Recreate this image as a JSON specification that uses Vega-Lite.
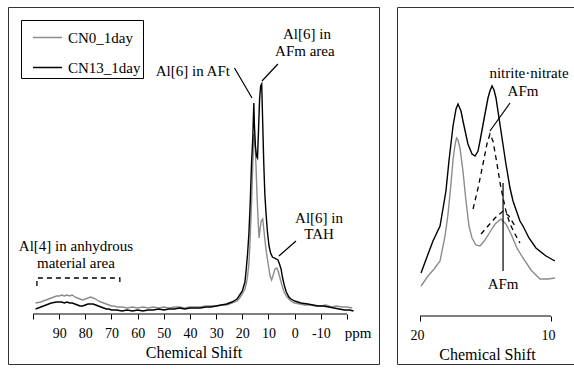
{
  "$schema": "https://vega.github.io/schema/vega-lite/v6.json",
  "autosize": {"type": "pad"},
  "padding": {"left": 7, "top": 6, "right": 0, "bottom": 0},
  "background": "white",
  "spacing": 16,
  "config": {
    "view": {"stroke": "#333333", "strokeWidth": 1},
    "font": "Times New Roman, Liberation Serif, DejaVu Serif, serif",
    "axis": {"labelFont": "Times New Roman, Liberation Serif, DejaVu Serif, serif", "titleFont": "Times New Roman, Liberation Serif, DejaVu Serif, serif", "labelColor": "black", "titleColor": "black", "tickColor": "black", "grid": false, "labelFontSize": 14, "titleFontSize": 16, "titleFontWeight": "normal", "domain": false, "tickSize": 5, "labelPadding": 7, "titlePadding": 4, "labelAngle": 0},
    "legend": {"labelFont": "Times New Roman, Liberation Serif, DejaVu Serif, serif"},
    "text": {"font": "Times New Roman, Liberation Serif, DejaVu Serif, serif", "fontSize": 15, "color": "black"}
  },
  "datasets": {
    "left": [
      {"ppm": 99, "intensity": 11, "sample": "CN0_1day"}, {"ppm": 97, "intensity": 12, "sample": "CN0_1day"}, {"ppm": 95, "intensity": 14, "sample": "CN0_1day"}, {"ppm": 93, "intensity": 16, "sample": "CN0_1day"}, {"ppm": 91, "intensity": 18, "sample": "CN0_1day"}, {"ppm": 90, "intensity": 18, "sample": "CN0_1day"}, {"ppm": 89, "intensity": 19, "sample": "CN0_1day"}, {"ppm": 88, "intensity": 18, "sample": "CN0_1day"}, {"ppm": 87, "intensity": 19, "sample": "CN0_1day"}, {"ppm": 86, "intensity": 18, "sample": "CN0_1day"}, {"ppm": 85, "intensity": 19, "sample": "CN0_1day"}, {"ppm": 84, "intensity": 17, "sample": "CN0_1day"}, {"ppm": 83, "intensity": 16, "sample": "CN0_1day"}, {"ppm": 82, "intensity": 15, "sample": "CN0_1day"}, {"ppm": 81, "intensity": 14, "sample": "CN0_1day"}, {"ppm": 80, "intensity": 15, "sample": "CN0_1day"}, {"ppm": 79, "intensity": 16, "sample": "CN0_1day"}, {"ppm": 78, "intensity": 17, "sample": "CN0_1day"}, {"ppm": 77, "intensity": 16, "sample": "CN0_1day"}, {"ppm": 76, "intensity": 15, "sample": "CN0_1day"}, {"ppm": 75, "intensity": 13, "sample": "CN0_1day"}, {"ppm": 74, "intensity": 12, "sample": "CN0_1day"}, {"ppm": 73, "intensity": 11, "sample": "CN0_1day"}, {"ppm": 72, "intensity": 10, "sample": "CN0_1day"}, {"ppm": 71, "intensity": 9, "sample": "CN0_1day"}, {"ppm": 70, "intensity": 8, "sample": "CN0_1day"}, {"ppm": 69, "intensity": 8, "sample": "CN0_1day"}, {"ppm": 68, "intensity": 7, "sample": "CN0_1day"}, {"ppm": 66, "intensity": 7, "sample": "CN0_1day"}, {"ppm": 64, "intensity": 6, "sample": "CN0_1day"}, {"ppm": 62, "intensity": 7, "sample": "CN0_1day"}, {"ppm": 60, "intensity": 6, "sample": "CN0_1day"}, {"ppm": 58, "intensity": 7, "sample": "CN0_1day"}, {"ppm": 56, "intensity": 6, "sample": "CN0_1day"}, {"ppm": 54, "intensity": 7, "sample": "CN0_1day"}, {"ppm": 52, "intensity": 6, "sample": "CN0_1day"}, {"ppm": 50, "intensity": 7, "sample": "CN0_1day"}, {"ppm": 48, "intensity": 6, "sample": "CN0_1day"}, {"ppm": 46, "intensity": 7, "sample": "CN0_1day"}, {"ppm": 44, "intensity": 7, "sample": "CN0_1day"}, {"ppm": 42, "intensity": 6, "sample": "CN0_1day"}, {"ppm": 40, "intensity": 7, "sample": "CN0_1day"}, {"ppm": 38, "intensity": 7, "sample": "CN0_1day"}, {"ppm": 36, "intensity": 7, "sample": "CN0_1day"}, {"ppm": 34, "intensity": 8, "sample": "CN0_1day"}, {"ppm": 32, "intensity": 8, "sample": "CN0_1day"}, {"ppm": 30, "intensity": 8, "sample": "CN0_1day"}, {"ppm": 28, "intensity": 9, "sample": "CN0_1day"}, {"ppm": 26, "intensity": 9, "sample": "CN0_1day"}, {"ppm": 24, "intensity": 11, "sample": "CN0_1day"}, {"ppm": 22, "intensity": 13, "sample": "CN0_1day"}, {"ppm": 21, "intensity": 16, "sample": "CN0_1day"}, {"ppm": 20, "intensity": 20, "sample": "CN0_1day"}, {"ppm": 19, "intensity": 25, "sample": "CN0_1day"}, {"ppm": 18.5, "intensity": 30, "sample": "CN0_1day"}, {"ppm": 18, "intensity": 38, "sample": "CN0_1day"}, {"ppm": 17.5, "intensity": 50, "sample": "CN0_1day"}, {"ppm": 17, "intensity": 75, "sample": "CN0_1day"}, {"ppm": 16.5, "intensity": 110, "sample": "CN0_1day"}, {"ppm": 16, "intensity": 150, "sample": "CN0_1day"}, {"ppm": 15.6, "intensity": 180, "sample": "CN0_1day"}, {"ppm": 15.2, "intensity": 172, "sample": "CN0_1day"}, {"ppm": 14.8, "intensity": 150, "sample": "CN0_1day"}, {"ppm": 14.4, "intensity": 120, "sample": "CN0_1day"}, {"ppm": 14.0, "intensity": 95, "sample": "CN0_1day"}, {"ppm": 13.6, "intensity": 76, "sample": "CN0_1day"}, {"ppm": 13.2, "intensity": 85, "sample": "CN0_1day"}, {"ppm": 12.8, "intensity": 93, "sample": "CN0_1day"}, {"ppm": 12.2, "intensity": 95, "sample": "CN0_1day"}, {"ppm": 11.8, "intensity": 85, "sample": "CN0_1day"}, {"ppm": 11.2, "intensity": 70, "sample": "CN0_1day"}, {"ppm": 10.6, "intensity": 58, "sample": "CN0_1day"}, {"ppm": 10, "intensity": 48, "sample": "CN0_1day"}, {"ppm": 9.4, "intensity": 38, "sample": "CN0_1day"}, {"ppm": 8.8, "intensity": 34, "sample": "CN0_1day"}, {"ppm": 8.2, "intensity": 39, "sample": "CN0_1day"}, {"ppm": 7.5, "intensity": 45, "sample": "CN0_1day"}, {"ppm": 6.8, "intensity": 46, "sample": "CN0_1day"}, {"ppm": 6.2, "intensity": 42, "sample": "CN0_1day"}, {"ppm": 5.5, "intensity": 35, "sample": "CN0_1day"}, {"ppm": 4.8, "intensity": 28, "sample": "CN0_1day"}, {"ppm": 4, "intensity": 22, "sample": "CN0_1day"}, {"ppm": 3.2, "intensity": 18, "sample": "CN0_1day"}, {"ppm": 2.2, "intensity": 15, "sample": "CN0_1day"}, {"ppm": 1, "intensity": 12, "sample": "CN0_1day"}, {"ppm": 0, "intensity": 11, "sample": "CN0_1day"}, {"ppm": -2, "intensity": 10, "sample": "CN0_1day"}, {"ppm": -4, "intensity": 9, "sample": "CN0_1day"}, {"ppm": -6, "intensity": 9, "sample": "CN0_1day"}, {"ppm": -8, "intensity": 8, "sample": "CN0_1day"}, {"ppm": -10, "intensity": 8, "sample": "CN0_1day"}, {"ppm": -12, "intensity": 9, "sample": "CN0_1day"}, {"ppm": -14, "intensity": 7, "sample": "CN0_1day"}, {"ppm": -16, "intensity": 8, "sample": "CN0_1day"}, {"ppm": -18, "intensity": 7, "sample": "CN0_1day"}, {"ppm": -20, "intensity": 7, "sample": "CN0_1day"}, {"ppm": -22, "intensity": 6, "sample": "CN0_1day"},
      {"ppm": 99, "intensity": 5, "sample": "CN13_1day"}, {"ppm": 97, "intensity": 7, "sample": "CN13_1day"}, {"ppm": 95, "intensity": 9, "sample": "CN13_1day"}, {"ppm": 93, "intensity": 11, "sample": "CN13_1day"}, {"ppm": 91, "intensity": 12, "sample": "CN13_1day"}, {"ppm": 90, "intensity": 12, "sample": "CN13_1day"}, {"ppm": 89, "intensity": 12, "sample": "CN13_1day"}, {"ppm": 88, "intensity": 11, "sample": "CN13_1day"}, {"ppm": 87, "intensity": 12, "sample": "CN13_1day"}, {"ppm": 86, "intensity": 11, "sample": "CN13_1day"}, {"ppm": 85, "intensity": 11, "sample": "CN13_1day"}, {"ppm": 84, "intensity": 10, "sample": "CN13_1day"}, {"ppm": 83, "intensity": 9, "sample": "CN13_1day"}, {"ppm": 82, "intensity": 8, "sample": "CN13_1day"}, {"ppm": 81, "intensity": 8, "sample": "CN13_1day"}, {"ppm": 80, "intensity": 9, "sample": "CN13_1day"}, {"ppm": 79, "intensity": 10, "sample": "CN13_1day"}, {"ppm": 78, "intensity": 10, "sample": "CN13_1day"}, {"ppm": 77, "intensity": 10, "sample": "CN13_1day"}, {"ppm": 76, "intensity": 9, "sample": "CN13_1day"}, {"ppm": 75, "intensity": 8, "sample": "CN13_1day"}, {"ppm": 74, "intensity": 7, "sample": "CN13_1day"}, {"ppm": 73, "intensity": 6, "sample": "CN13_1day"}, {"ppm": 72, "intensity": 5, "sample": "CN13_1day"}, {"ppm": 71, "intensity": 5, "sample": "CN13_1day"}, {"ppm": 70, "intensity": 4, "sample": "CN13_1day"}, {"ppm": 68, "intensity": 4, "sample": "CN13_1day"}, {"ppm": 66, "intensity": 3, "sample": "CN13_1day"}, {"ppm": 64, "intensity": 4, "sample": "CN13_1day"}, {"ppm": 62, "intensity": 3, "sample": "CN13_1day"}, {"ppm": 60, "intensity": 4, "sample": "CN13_1day"}, {"ppm": 58, "intensity": 3, "sample": "CN13_1day"}, {"ppm": 56, "intensity": 4, "sample": "CN13_1day"}, {"ppm": 54, "intensity": 4, "sample": "CN13_1day"}, {"ppm": 52, "intensity": 5, "sample": "CN13_1day"}, {"ppm": 50, "intensity": 4, "sample": "CN13_1day"}, {"ppm": 48, "intensity": 5, "sample": "CN13_1day"}, {"ppm": 46, "intensity": 5, "sample": "CN13_1day"}, {"ppm": 44, "intensity": 6, "sample": "CN13_1day"}, {"ppm": 42, "intensity": 5, "sample": "CN13_1day"}, {"ppm": 40, "intensity": 6, "sample": "CN13_1day"}, {"ppm": 38, "intensity": 6, "sample": "CN13_1day"}, {"ppm": 36, "intensity": 6, "sample": "CN13_1day"}, {"ppm": 34, "intensity": 7, "sample": "CN13_1day"}, {"ppm": 32, "intensity": 7, "sample": "CN13_1day"}, {"ppm": 30, "intensity": 8, "sample": "CN13_1day"}, {"ppm": 28, "intensity": 9, "sample": "CN13_1day"}, {"ppm": 26, "intensity": 10, "sample": "CN13_1day"}, {"ppm": 24, "intensity": 12, "sample": "CN13_1day"}, {"ppm": 22, "intensity": 15, "sample": "CN13_1day"}, {"ppm": 21, "intensity": 19, "sample": "CN13_1day"}, {"ppm": 20, "intensity": 23, "sample": "CN13_1day"}, {"ppm": 19, "intensity": 32, "sample": "CN13_1day"}, {"ppm": 18.5, "intensity": 45, "sample": "CN13_1day"}, {"ppm": 18, "intensity": 60, "sample": "CN13_1day"}, {"ppm": 17.5, "intensity": 80, "sample": "CN13_1day"}, {"ppm": 17, "intensity": 110, "sample": "CN13_1day"}, {"ppm": 16.5, "intensity": 150, "sample": "CN13_1day"}, {"ppm": 16, "intensity": 176, "sample": "CN13_1day"}, {"ppm": 15.8, "intensity": 195, "sample": "CN13_1day"}, {"ppm": 15.6, "intensity": 211, "sample": "CN13_1day"}, {"ppm": 15.4, "intensity": 190, "sample": "CN13_1day"}, {"ppm": 15.0, "intensity": 168, "sample": "CN13_1day"}, {"ppm": 14.6, "intensity": 158, "sample": "CN13_1day"}, {"ppm": 14.2, "intensity": 156, "sample": "CN13_1day"}, {"ppm": 13.8, "intensity": 185, "sample": "CN13_1day"}, {"ppm": 13.4, "intensity": 215, "sample": "CN13_1day"}, {"ppm": 13.0, "intensity": 228, "sample": "CN13_1day"}, {"ppm": 12.6, "intensity": 230, "sample": "CN13_1day"}, {"ppm": 12.2, "intensity": 190, "sample": "CN13_1day"}, {"ppm": 11.8, "intensity": 150, "sample": "CN13_1day"}, {"ppm": 11.4, "intensity": 120, "sample": "CN13_1day"}, {"ppm": 11.0, "intensity": 103, "sample": "CN13_1day"}, {"ppm": 10.4, "intensity": 82, "sample": "CN13_1day"}, {"ppm": 9.8, "intensity": 68, "sample": "CN13_1day"}, {"ppm": 9.2, "intensity": 61, "sample": "CN13_1day"}, {"ppm": 8.5, "intensity": 57, "sample": "CN13_1day"}, {"ppm": 7.8, "intensity": 56, "sample": "CN13_1day"}, {"ppm": 7.0, "intensity": 55, "sample": "CN13_1day"}, {"ppm": 6.4, "intensity": 54, "sample": "CN13_1day"}, {"ppm": 5.8, "intensity": 50, "sample": "CN13_1day"}, {"ppm": 5.2, "intensity": 45, "sample": "CN13_1day"}, {"ppm": 4.6, "intensity": 36, "sample": "CN13_1day"}, {"ppm": 4.0, "intensity": 29, "sample": "CN13_1day"}, {"ppm": 3.2, "intensity": 22, "sample": "CN13_1day"}, {"ppm": 2.2, "intensity": 17, "sample": "CN13_1day"}, {"ppm": 1.4, "intensity": 15, "sample": "CN13_1day"}, {"ppm": 0, "intensity": 13, "sample": "CN13_1day"}, {"ppm": -2.4, "intensity": 11, "sample": "CN13_1day"}, {"ppm": -5, "intensity": 10, "sample": "CN13_1day"}, {"ppm": -7, "intensity": 9, "sample": "CN13_1day"}, {"ppm": -9, "intensity": 8, "sample": "CN13_1day"}, {"ppm": -11, "intensity": 8, "sample": "CN13_1day"}, {"ppm": -13, "intensity": 7, "sample": "CN13_1day"}, {"ppm": -15, "intensity": 6, "sample": "CN13_1day"}, {"ppm": -17, "intensity": 5, "sample": "CN13_1day"}, {"ppm": -19, "intensity": 4, "sample": "CN13_1day"}, {"ppm": -21, "intensity": 4, "sample": "CN13_1day"}, {"ppm": -22.5, "intensity": 3, "sample": "CN13_1day"}
    ],
    "right": [
      {"ppm": 19.92, "intensity": 30, "sample": "CN0_1day"}, {"ppm": 19.39, "intensity": 40, "sample": "CN0_1day"}, {"ppm": 18.93, "intensity": 47, "sample": "CN0_1day"}, {"ppm": 18.47, "intensity": 55, "sample": "CN0_1day"}, {"ppm": 18.09, "intensity": 80, "sample": "CN0_1day"}, {"ppm": 17.86, "intensity": 102, "sample": "CN0_1day"}, {"ppm": 17.63, "intensity": 133, "sample": "CN0_1day"}, {"ppm": 17.48, "intensity": 156, "sample": "CN0_1day"}, {"ppm": 17.33, "intensity": 171, "sample": "CN0_1day"}, {"ppm": 17.21, "intensity": 178, "sample": "CN0_1day"}, {"ppm": 17.1, "intensity": 176, "sample": "CN0_1day"}, {"ppm": 16.95, "intensity": 168, "sample": "CN0_1day"}, {"ppm": 16.72, "intensity": 145, "sample": "CN0_1day"}, {"ppm": 16.49, "intensity": 115, "sample": "CN0_1day"}, {"ppm": 16.26, "intensity": 90, "sample": "CN0_1day"}, {"ppm": 16.03, "intensity": 78, "sample": "CN0_1day"}, {"ppm": 15.73, "intensity": 71, "sample": "CN0_1day"}, {"ppm": 15.42, "intensity": 70, "sample": "CN0_1day"}, {"ppm": 15.04, "intensity": 76, "sample": "CN0_1day"}, {"ppm": 14.66, "intensity": 84, "sample": "CN0_1day"}, {"ppm": 14.27, "intensity": 92, "sample": "CN0_1day"}, {"ppm": 13.82, "intensity": 97, "sample": "CN0_1day"}, {"ppm": 13.44, "intensity": 92, "sample": "CN0_1day"}, {"ppm": 13.05, "intensity": 82, "sample": "CN0_1day"}, {"ppm": 12.6, "intensity": 68, "sample": "CN0_1day"}, {"ppm": 12.14, "intensity": 58, "sample": "CN0_1day"}, {"ppm": 11.53, "intensity": 46, "sample": "CN0_1day"}, {"ppm": 10.84, "intensity": 37, "sample": "CN0_1day"}, {"ppm": 10.23, "intensity": 37, "sample": "CN0_1day"}, {"ppm": 9.7, "intensity": 38, "sample": "CN0_1day"},
      {"ppm": 19.92, "intensity": 43, "sample": "CN13_1day"}, {"ppm": 19.47, "intensity": 59, "sample": "CN13_1day"}, {"ppm": 19.01, "intensity": 75, "sample": "CN13_1day"}, {"ppm": 18.47, "intensity": 90, "sample": "CN13_1day"}, {"ppm": 18.02, "intensity": 125, "sample": "CN13_1day"}, {"ppm": 17.79, "intensity": 155, "sample": "CN13_1day"}, {"ppm": 17.48, "intensity": 190, "sample": "CN13_1day"}, {"ppm": 17.25, "intensity": 207, "sample": "CN13_1day"}, {"ppm": 17.1, "intensity": 212, "sample": "CN13_1day"}, {"ppm": 16.87, "intensity": 205, "sample": "CN13_1day"}, {"ppm": 16.72, "intensity": 195, "sample": "CN13_1day"}, {"ppm": 16.34, "intensity": 172, "sample": "CN13_1day"}, {"ppm": 16.03, "intensity": 162, "sample": "CN13_1day"}, {"ppm": 15.8, "intensity": 160, "sample": "CN13_1day"}, {"ppm": 15.57, "intensity": 165, "sample": "CN13_1day"}, {"ppm": 15.42, "intensity": 175, "sample": "CN13_1day"}, {"ppm": 15.04, "intensity": 202, "sample": "CN13_1day"}, {"ppm": 14.81, "intensity": 218, "sample": "CN13_1day"}, {"ppm": 14.66, "intensity": 225, "sample": "CN13_1day"}, {"ppm": 14.5, "intensity": 230, "sample": "CN13_1day"}, {"ppm": 14.35, "intensity": 226, "sample": "CN13_1day"}, {"ppm": 14.2, "intensity": 218, "sample": "CN13_1day"}, {"ppm": 13.82, "intensity": 185, "sample": "CN13_1day"}, {"ppm": 13.44, "intensity": 152, "sample": "CN13_1day"}, {"ppm": 13.13, "intensity": 128, "sample": "CN13_1day"}, {"ppm": 12.9, "intensity": 115, "sample": "CN13_1day"}, {"ppm": 12.37, "intensity": 95, "sample": "CN13_1day"}, {"ppm": 12.14, "intensity": 90, "sample": "CN13_1day"}, {"ppm": 11.68, "intensity": 78, "sample": "CN13_1day"}, {"ppm": 11.15, "intensity": 68, "sample": "CN13_1day"}, {"ppm": 10.38, "intensity": 60, "sample": "CN13_1day"}, {"ppm": 9.7, "intensity": 55, "sample": "CN13_1day"}
    ],
    "fit": [
      {"ppm": 15.95, "intensity": 107, "peak": "nitrite"}, {"ppm": 15.57, "intensity": 128, "peak": "nitrite"}, {"ppm": 15.19, "intensity": 152, "peak": "nitrite"}, {"ppm": 14.89, "intensity": 172, "peak": "nitrite"}, {"ppm": 14.66, "intensity": 182, "peak": "nitrite"}, {"ppm": 14.43, "intensity": 175, "peak": "nitrite"}, {"ppm": 14.2, "intensity": 158, "peak": "nitrite"}, {"ppm": 13.82, "intensity": 128, "peak": "nitrite"}, {"ppm": 13.44, "intensity": 105, "peak": "nitrite"}, {"ppm": 13.13, "intensity": 92, "peak": "nitrite"}, {"ppm": 12.75, "intensity": 82, "peak": "nitrite"}, {"ppm": 12.37, "intensity": 73, "peak": "nitrite"},
      {"ppm": 15.34, "intensity": 82, "peak": "afm"}, {"ppm": 14.81, "intensity": 90, "peak": "afm"}, {"ppm": 14.27, "intensity": 98, "peak": "afm"}, {"ppm": 13.66, "intensity": 105, "peak": "afm"}, {"ppm": 13.21, "intensity": 100, "peak": "afm"}, {"ppm": 12.75, "intensity": 90, "peak": "afm"}
    ],
    "leftText": [
      {"ppm": 38.9, "intensity": 243, "label": "Al[6] in AFt"},
      {"ppm": -4.7, "intensity": 280, "label": "Al[6] in"},
      {"ppm": -3.9, "intensity": 263, "label": "AFm area"},
      {"ppm": -9.3, "intensity": 96, "label": "Al[6] in"},
      {"ppm": -9.3, "intensity": 80, "label": "TAH"},
      {"ppm": 83.6, "intensity": 68, "label": "Al[4] in anhydrous"},
      {"ppm": 83.6, "intensity": 51, "label": "material area"},
      {"ppm": -24.2, "intensity": -19, "label": "ppm"}
    ],
    "leftRules": [
      {"ppm": 23.0, "intensity": 246, "ppm2": 16.3, "intensity2": 216},
      {"ppm": 6.4, "intensity": 250, "ppm2": 12.5, "intensity2": 233},
      {"ppm": -0.5, "intensity": 73, "ppm2": 6.0, "intensity2": 58},
      {"ppm": 100, "intensity": 0, "ppm2": -20, "intensity2": 0}
    ],
    "bracket": [
      {"ppm": 98.5, "intensity": 28, "i": 1},
      {"ppm": 98.5, "intensity": 36, "i": 2},
      {"ppm": 66.8, "intensity": 36, "i": 3},
      {"ppm": 66.8, "intensity": 28, "i": 4}
    ],
    "rightText": [
      {"ppm": 11.68, "intensity": 243, "label": "nitrite·nitrate"},
      {"ppm": 12.14, "intensity": 225, "label": "AFm"},
      {"ppm": 13.66, "intensity": 32, "label": "AFm"}
    ],
    "rightRules": [
      {"ppm": 13.13, "intensity": 213, "ppm2": 14.66, "intensity2": 185},
      {"ppm": 13.66, "intensity": 133, "ppm2": 13.66, "intensity2": 45},
      {"ppm": 20, "intensity": 0, "ppm2": 10, "intensity2": 0}
    ]
  },
  "hconcat": [
    {
      "width": 371,
      "height": 357,
      "encoding": {
        "x": {"field": "ppm", "type": "quantitative", "scale": {"domain": [109.55, -32.23], "nice": false, "zero": false},
          "axis": {"title": "Chemical Shift", "titleFontWeight": "normal", "values": [100, 90, 80, 70, 60, 50, 40, 30, 20, 10, 0, -10, -20], "labelExpr": "datum.value == 100 || datum.value == -20 ? '' : '' + datum.value", "offset": -50}},
        "y": {"field": "intensity", "type": "quantitative", "scale": {"domain": [-50, 307], "nice": false, "zero": false}, "axis": null}
      },
      "layer": [
        {"data": {"name": "left"}, "mark": {"type": "line", "strokeWidth": 1.4},
          "encoding": {"color": {"field": "sample", "type": "nominal", "scale": {"domain": ["CN0_1day", "CN13_1day"], "range": ["#8c8c8c", "#000000"]},
            "legend": {"title": null, "orient": "none", "legendX": 13, "legendY": 13, "symbolType": "stroke", "symbolSize": 841, "symbolStrokeWidth": 1.5, "symbolOffset": 9, "labelFont": "Times New Roman, Liberation Serif, serif", "labelFontSize": 15, "labelColor": "black", "strokeColor": "black", "padding": 2, "rowPadding": 6, "labelOffset": 5, "fillColor": "white"}}}},
        {"data": {"name": "bracket"}, "mark": {"type": "line", "color": "black", "strokeWidth": 1.3, "strokeDash": [5, 4]}, "encoding": {"order": {"field": "i", "type": "quantitative"}}},
        {"data": {"name": "leftRules"}, "mark": {"type": "rule", "color": "black", "strokeWidth": 1.2}, "encoding": {"x2": {"field": "ppm2"}, "y2": {"field": "intensity2"}}},
        {"data": {"name": "leftText"}, "mark": {"type": "text", "align": "center", "baseline": "middle"}, "encoding": {"text": {"field": "label"}}}
      ]
    },
    {
      "width": 180,
      "height": 357,
      "encoding": {
        "x": {"field": "ppm", "type": "quantitative", "scale": {"domain": [21.756, 8.015], "nice": false, "zero": false},
          "axis": {"title": "Chemical Shift", "titleFontWeight": "normal", "values": [20, 10], "offset": -48, "labelOffset": -3}},
        "y": {"field": "intensity", "type": "quantitative", "scale": {"domain": [-48, 309], "nice": false, "zero": false}, "axis": null}
      },
      "layer": [
        {"data": {"name": "right"}, "mark": {"type": "line", "strokeWidth": 1.4},
          "encoding": {"color": {"field": "sample", "type": "nominal", "scale": {"domain": ["CN0_1day", "CN13_1day"], "range": ["#8c8c8c", "#000000"]}, "legend": null}}},
        {"data": {"name": "fit"}, "mark": {"type": "line", "color": "black", "strokeWidth": 1.3, "strokeDash": [5, 4]}, "encoding": {"detail": {"field": "peak"}}},
        {"data": {"name": "rightRules"}, "mark": {"type": "rule", "color": "black", "strokeWidth": 1.2}, "encoding": {"x2": {"field": "ppm2"}, "y2": {"field": "intensity2"}}},
        {"data": {"name": "rightText"}, "mark": {"type": "text", "align": "center", "baseline": "middle"}, "encoding": {"text": {"field": "label"}}}
      ]
    }
  ],
  "resolve": {"scale": {"x": "independent", "y": "independent", "color": "independent"}, "legend": {"color": "independent"}}
}
